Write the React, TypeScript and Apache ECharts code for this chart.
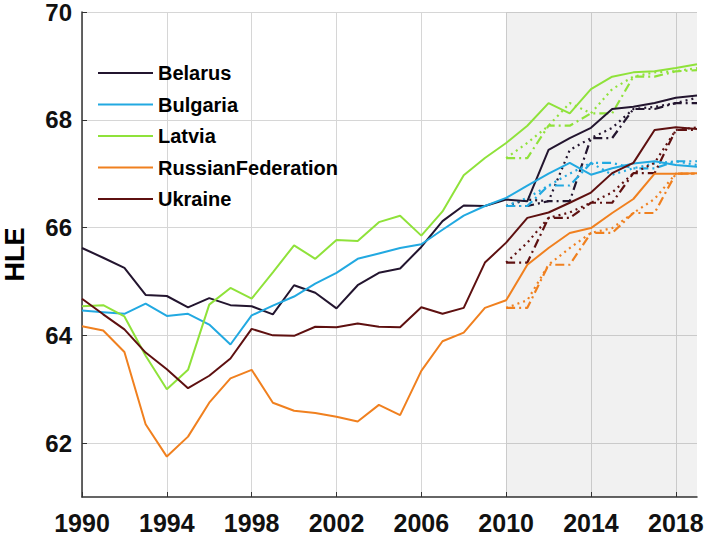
import React, { useEffect, useRef } from "react";
import * as echarts from "echarts";

const years = [
  "1990", "1991", "1992", "1993", "1994", "1995", "1996", "1997", "1998", "1999",
  "2000", "2001", "2002", "2003", "2004", "2005", "2006", "2007", "2008", "2009",
  "2010", "2011", "2012", "2013", "2014", "2015", "2016", "2017", "2018", "2019",
];
const projYears = ["2010", "2011", "2012", "2013", "2014", "2015", "2016", "2017", "2018", "2019"];
const yTicks = [62, 64, 66, 68, 70];

const countries = ["Belarus", "Bulgaria", "Latvia", "RussianFederation", "Ukraine"];
const colors = ["#23152f", "#22a9e1", "#8fe23a", "#f0801f", "#5e1010"];

const belarus = [
  65.62, 65.44, 65.25, 64.75, 64.73, 64.52, 64.69, 64.56, 64.54, 64.39,
  64.93, 64.79, 64.5, 64.93, 65.16, 65.24, 65.64, 66.12, 66.41, 66.4,
  66.52, 66.49, 67.44, 67.66, 67.85, 68.2, 68.24, 68.31, 68.41, 68.45,
];
const bulgaria = [
  64.46, 64.43, 64.4, 64.59, 64.36, 64.4, 64.2, 63.83, 64.37, 64.55,
  64.72, 64.96, 65.16, 65.42, 65.52, 65.62, 65.69, 65.96, 66.22, 66.4,
  66.55, 66.78, 67.0, 67.2, 66.98, 67.1, 67.19, 67.23, 67.16, 67.13,
];
const latvia = [
  64.54, 64.56, 64.35, 63.62, 63.0, 63.36, 64.57, 64.88, 64.68, 65.17,
  65.67, 65.42, 65.77, 65.75, 66.1, 66.22, 65.85, 66.3, 66.97, 67.29,
  67.57, 67.89, 68.31, 68.12, 68.57, 68.8, 68.88, 68.9, 68.96, 69.03,
];
const russia = [
  64.17, 64.09, 63.69, 62.35, 61.75, 62.12, 62.75, 63.2, 63.36, 62.75,
  62.6, 62.56, 62.49, 62.4, 62.71, 62.52, 63.34, 63.89, 64.05, 64.51,
  64.65, 65.31, 65.62, 65.9, 65.99, 66.27, 66.53, 67.0, 67.0, 67.01,
];
const ukraine = [
  64.68, 64.39, 64.11, 63.68, 63.37, 63.02, 63.25, 63.57, 64.12, 64.0,
  63.99, 64.16, 64.15, 64.22, 64.16, 64.15, 64.52, 64.4, 64.51, 65.35,
  65.72, 66.18, 66.28, 66.46, 66.65, 67.01, 67.2, 67.81, 67.86, 67.83,
];

// dotted projections 2010-2019
const belarusDot = [66.4, 66.52, 66.49, 67.44, 67.66, 67.85, 68.2, 68.24, 68.31, 68.41];
const bulgariaDot = [66.4, 66.55, 66.78, 67.0, 67.2, 66.98, 67.1, 67.19, 67.23, 67.16];
const latviaDot = [67.29, 67.57, 67.89, 68.31, 68.12, 68.57, 68.8, 68.88, 68.9, 68.96];
const russiaDot = [64.51, 64.65, 65.31, 65.62, 65.9, 65.99, 66.27, 66.53, 67.0, 67.0];
const ukraineDot = [65.35, 65.72, 66.18, 66.28, 66.46, 66.65, 67.01, 67.2, 67.81, 67.86];

// dash-dot projections 2010-2019
const belarusDash = [66.4, 66.4, 66.49, 66.49, 67.66, 67.66, 68.2, 68.2, 68.31, 68.31];
const bulgariaDash = [66.4, 66.4, 66.78, 66.78, 67.2, 67.2, 67.1, 67.1, 67.23, 67.23];
const latviaDash = [67.29, 67.29, 67.89, 67.89, 68.12, 68.12, 68.8, 68.8, 68.9, 68.92];
const russiaDash = [64.51, 64.51, 65.31, 65.31, 65.9, 65.9, 66.27, 66.27, 67.0, 67.0];
const ukraineDash = [65.35, 65.35, 66.18, 66.18, 66.46, 66.46, 67.01, 67.01, 67.81, 67.81];

const solidData = [belarus, bulgaria, latvia, russia, ukraine];
const dotData = [belarusDot, bulgariaDot, latviaDot, russiaDot, ukraineDot];
const dashData = [belarusDash, bulgariaDash, latviaDash, russiaDash, ukraineDash];

const FONT = '"Liberation Sans", Arial, sans-serif';

export default function App() {
  const ref = useRef<HTMLDivElement>(null);

  useEffect(() => {
    if (!ref.current) return;
    const chart = echarts.init(ref.current, null, { renderer: "svg" });

    const series: any[] = [];
    countries.forEach((name, i) => {
      series.push({
        name: name + " dot",
        type: "line",
        data: projYears.map((y, k) => [y, dotData[i][k]]),
        symbol: "none",
        lineStyle: { color: colors[i], width: 2.2, type: [2, 4] },
        itemStyle: { color: colors[i] },
        z: 2,
      });
      series.push({
        name: name + " dash",
        type: "line",
        data: projYears.map((y, k) => [y, dashData[i][k]]),
        symbol: "none",
        lineStyle: { color: colors[i], width: 2.2, type: [9, 4, 2, 4] },
        itemStyle: { color: colors[i] },
        z: 2,
      });
    });
    countries.forEach((name, i) => {
      const s: any = {
        name,
        type: "line",
        data: solidData[i],
        symbol: "none",
        lineStyle: { color: colors[i], width: 2 },
        itemStyle: { color: colors[i] },
        z: 3,
      };
      if (i === 0) {
        s.markArea = {
          silent: true,
          itemStyle: { color: "rgba(0,0,0,0.055)" },
          data: [[{ xAxis: "2010" }, { xAxis: "2019" }]],
        };
      }
      series.push(s);
    });

    chart.setOption({
      animation: false,
      backgroundColor: "#ffffff",
      textStyle: { fontFamily: FONT },
      grid: { left: 82, right: 11, top: 12, bottom: 43, containLabel: false, outerBoundsMode: "none" },
      legend: {
        data: countries,
        orient: "vertical",
        left: 98,
        top: 63,
        padding: 0,
        itemWidth: 55,
        itemHeight: 2,
        itemGap: 11.5,
        icon: "rect",
        textStyle: { fontSize: 20, fontWeight: "bold", color: "#000", fontFamily: FONT },
      },
      xAxis: {
        type: "category",
        data: years,
        boundaryGap: false,
        axisLine: { lineStyle: { color: "#333", width: 1.5 } },
        axisTick: { inside: true, interval: 3, length: 5, lineStyle: { color: "#333" } },
        axisLabel: {
          interval: 3,
          fontSize: 25,
          lineHeight: 24,
          fontWeight: "bold",
          color: "#111",
          margin: 14,
          fontFamily: FONT,
        },
        splitLine: { show: true, interval: 3, lineStyle: { color: "#d6d6d6", width: 1 } },
      },
      yAxis: {
        type: "value",
        min: 61,
        max: 70,
        interval: 1,
        name: "HLE",
        nameLocation: "middle",
        nameGap: 54,
        nameTextStyle: { fontSize: 27, lineHeight: 26, fontWeight: "bold", color: "#000", fontFamily: FONT },
        axisLine: { show: true, lineStyle: { color: "#333", width: 1.5 } },
        axisTick: { show: true, inside: true, length: 5, customValues: yTicks, lineStyle: { color: "#333" } },
        axisLabel: {
          customValues: yTicks,
          fontSize: 24,
          lineHeight: 20,
          padding: [2, 0, 0, 0],
          fontWeight: "bold",
          color: "#111",
          margin: 10,
          fontFamily: FONT,
        },
        splitLine: { show: true, lineStyle: { color: "#d6d6d6", width: 1 } },
      },
      series,
    });

    return () => chart.dispose();
  }, []);

  return (
    <div
      ref={ref}
      style={{ position: "absolute", left: 0, top: 0, width: 708, height: 540 }}
    />
  );
}
